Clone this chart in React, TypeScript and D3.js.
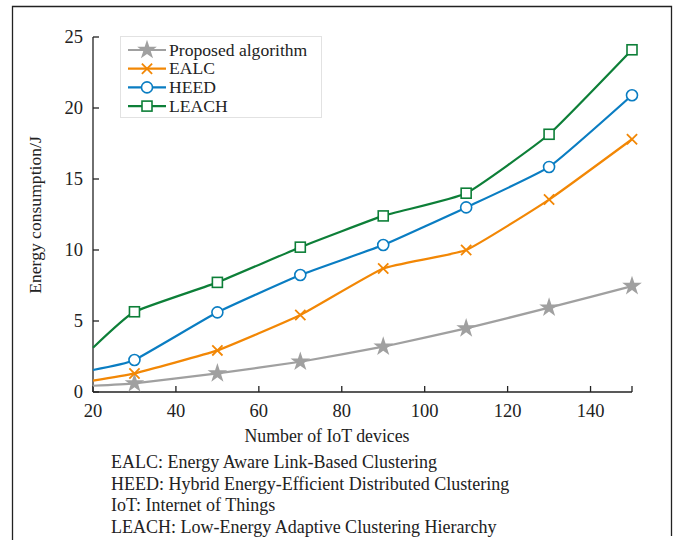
import { useEffect, useRef } from 'react';
import * as d3 from 'd3';

const devices = [20, 30, 50, 70, 90, 110, 130, 150];
const proposed = [0.44, 0.61, 1.31, 2.13, 3.19, 4.48, 5.94, 7.46];
const ealc = [0.8, 1.31, 2.93, 5.42, 8.7, 10.0, 13.55, 17.8];
const heed = [1.55, 2.25, 5.61, 8.24, 10.35, 13.0, 15.85, 20.9];
const leach = [3.12, 5.65, 7.72, 10.2, 12.4, 14.0, 18.15, 24.1];
const xTicks = [20, 40, 60, 80, 100, 120, 140];
const yTicks = [0, 5, 10, 15, 20, 25];
const notes = [
    'EALC: Energy Aware Link-Based Clustering',
    'HEED: Hybrid Energy-Efficient Distributed Clustering',
    'IoT: Internet of Things',
    'LEACH: Low-Energy Adaptive Clustering Hierarchy',
];

const series = [
    { name: 'Proposed algorithm', values: proposed, color: '#a0a0a0', marker: 'star' },
    { name: 'EALC', values: ealc, color: '#f28705', marker: 'x' },
    { name: 'HEED', values: heed, color: '#0a7dc2', marker: 'circle' },
    { name: 'LEACH', values: leach, color: '#0d7f38', marker: 'square' },
];

const FONT = '"Liberation Serif", "DejaVu Serif", serif';

export default function App() {
    const svgRef = useRef<SVGSVGElement>(null);

    useEffect(() => {
        const svg = d3.select(svgRef.current);
        svg.selectAll('*').remove();

        const x = d3.scaleLinear().domain([20, 150]).range([93, 632]);
        const y = d3.scaleLinear().domain([0, 25]).range([392, 37]);

        // outer frame (no bottom edge)
        svg.append('path')
            .attr('d', 'M12.5,540 L12.5,6.5 L671.5,6.5 L671.5,536')
            .attr('fill', 'none')
            .attr('stroke', '#222')
            .attr('stroke-width', 1.3);

        // axes
        const ax = svg.append('g').attr('stroke', '#222').attr('stroke-width', 1.3).attr('fill', 'none');
        ax.append('line').attr('x1', 93).attr('x2', 632).attr('y1', 392).attr('y2', 392);
        ax.append('line').attr('x1', 93).attr('x2', 93).attr('y1', 37).attr('y2', 392);
        [...xTicks, 150].forEach(t => {
            ax.append('line').attr('x1', x(t)).attr('x2', x(t)).attr('y1', 392).attr('y2', 386);
        });
        yTicks.forEach(t => {
            ax.append('line').attr('x1', 93).attr('x2', 99).attr('y1', y(t)).attr('y2', y(t));
        });

        svg.append('g').selectAll('text').data(xTicks).enter().append('text')
            .attr('x', d => x(d)).attr('y', 417)
            .attr('text-anchor', 'middle')
            .attr('font-family', FONT).attr('font-size', 18.5).attr('fill', '#222')
            .text(d => d);
        svg.append('g').selectAll('text').data(yTicks).enter().append('text')
            .attr('x', 83).attr('y', d => y(d) + 6)
            .attr('text-anchor', 'end')
            .attr('font-family', FONT).attr('font-size', 18.5).attr('fill', '#222')
            .text(d => d);

        svg.append('text')
            .attr('x', 327).attr('y', 442)
            .attr('text-anchor', 'middle')
            .attr('font-family', FONT).attr('font-size', 17.8).attr('fill', '#222')
            .text('Number of IoT devices');
        svg.append('text')
            .attr('transform', 'translate(41,215) rotate(-90)')
            .attr('text-anchor', 'middle')
            .attr('font-family', FONT).attr('font-size', 17.6).attr('fill', '#222')
            .text('Energy consumption/J');

        const line = d3.line<number>()
            .x((_, i) => x(devices[i]))
            .y(d => y(d))
            .curve(d3.curveCardinal.tension(0.6));

        const star = d3.symbol().type(d3.symbolStar).size(120);
        const cross = d3.symbol().type(d3.symbolX).size(70);

        const drawMarker = (g: any, s: any, cx: number, cy: number) => {
            if (s.marker === 'star') {
                g.append('path').attr('d', star()).attr('transform', `translate(${cx},${cy})`)
                    .attr('fill', s.color).attr('stroke', 'none');
            } else if (s.marker === 'x') {
                g.append('path').attr('d', cross()).attr('transform', `translate(${cx},${cy})`)
                    .attr('fill', 'none').attr('stroke', s.color).attr('stroke-width', 1.8);
            } else if (s.marker === 'circle') {
                g.append('circle').attr('cx', cx).attr('cy', cy).attr('r', 5.5)
                    .attr('fill', '#fff').attr('stroke', s.color).attr('stroke-width', 1.6);
            } else {
                g.append('rect').attr('x', cx - 5).attr('y', cy - 5).attr('width', 10).attr('height', 10)
                    .attr('fill', '#fff').attr('stroke', s.color).attr('stroke-width', 1.6);
            }
        };

        series.forEach(s => {
            const g = svg.append('g');
            g.append('path')
                .attr('d', line(s.values))
                .attr('fill', 'none')
                .attr('stroke', s.color)
                .attr('stroke-width', 2.2);
            s.values.forEach((v, i) => {
                if (i === 0) return;
                drawMarker(g, s, x(devices[i]), y(v));
            });
        });

        // legend
        const lg = svg.append('g');
        lg.append('rect').attr('x', 120.5).attr('y', 36.5).attr('width', 201).attr('height', 81)
            .attr('fill', '#fff').attr('stroke', '#e2e2e2').attr('stroke-width', 1);
        series.forEach((s, i) => {
            const yy = 50 + i * 18.7;
            lg.append('line').attr('x1', 128).attr('x2', 166).attr('y1', yy).attr('y2', yy)
                .attr('stroke', s.color).attr('stroke-width', 2.2);
            drawMarker(lg, s, 147, yy);
            lg.append('text').attr('x', 169).attr('y', yy + 5.5)
                .attr('font-family', FONT).attr('font-size', 17.6).attr('fill', '#222')
                .text(s.name);
        });

        svg.append('g').selectAll('text').data(notes).enter().append('text')
            .attr('x', 111).attr('y', (_, i) => 468 + i * 21.5)
            .attr('font-family', FONT).attr('font-size', 18).attr('fill', '#222')
            .text(d => d);
    }, []);

    return (
        <div style={{ position: 'absolute', left: 0, top: 0 }}>
            <svg ref={svgRef} width={679} height={540} style={{ display: 'block', background: '#fff' }} />
        </div>
    );
}
